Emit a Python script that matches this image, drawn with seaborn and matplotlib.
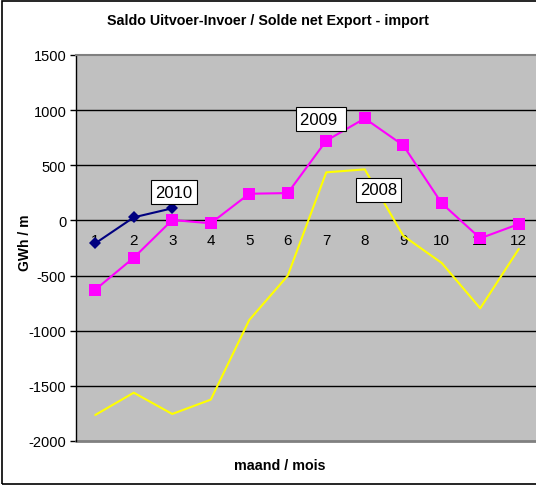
import matplotlib
matplotlib.use("Agg")
import matplotlib.pyplot as plt
import seaborn as sns
import pandas as pd
from matplotlib.patches import Rectangle

months = [1, 2, 3, 4, 5, 6, 7, 8, 9, 10, 11, 12]
month_labels = [str(m) for m in months]
y2008 = [-1764, -1562, -1755, -1625, -903, -501, 436, 463, -139, -386, -797, -259]
y2009 = [-628, -338, 4, -26, 242, 248, 723, 925, 681, 155, -162, -33]
months2010 = [1, 2, 3]
y2010 = [-208, 28, 110]
yticks = [-2000, -1500, -1000, -500, 0, 500, 1000, 1500]

sns.set_theme(style="white")
plt.rcParams['font.family'] = ['Liberation Sans', 'DejaVu Sans']
plt.rcParams['text.color'] = 'black'
plt.rcParams['xtick.color'] = 'black'
plt.rcParams['ytick.color'] = 'black'
plt.rcParams['axes.labelcolor'] = 'black'

W, H = 536, 489
fig = plt.figure(figsize=(W / 100, H / 100), dpi=100)
fig.patch.set_facecolor("white")
fig.patches.append(Rectangle((2 / W, 4 / H), 2.0, (H - 6) / H, transform=fig.transFigure,
                             fill=False, edgecolor="black", linewidth=1.2, zorder=10))

ax = fig.add_axes([76 / W, (H - 442) / H, (538 - 76) / W, (442 - 56) / H])
ax.set_facecolor("#C0C0C0")

df08 = pd.DataFrame({"m": months, "v": y2008})
df09 = pd.DataFrame({"m": months, "v": y2009})
df10 = pd.DataFrame({"m": months2010, "v": y2010})

for g in [500, 1000, -500, -1000, -1500]:
    ax.axhline(g, color="black", linewidth=1.0, zorder=1)

sns.lineplot(data=df08, x="m", y="v", ax=ax, color="#FFFF00", linewidth=1.5, zorder=3)
sns.lineplot(data=df09, x="m", y="v", ax=ax, color="#FF00FF", linewidth=1.5, marker="s",
             markersize=8, markeredgewidth=0, zorder=4)
sns.lineplot(data=df10, x="m", y="v", ax=ax, color="#000080", linewidth=1.5, marker="D",
             markersize=6, markeredgewidth=0, zorder=5)

ax.set_xlim(0.5, 12.5)
ax.set_ylim(-2000, 1500)
ax.set_yticks(yticks)
ax.set_yticklabels([str(t) for t in yticks], fontsize=10.5, color="black")
ax.set_xticks([m + 0.5 for m in months[:-1]])
ax.set_xticklabels([])
ax.set_xticks(months, minor=True)
ax.set_xticklabels(month_labels, minor=True, fontsize=10.5, color="black")
ax.tick_params(axis="x", which="major", direction="out", length=4, width=1, color="black")
ax.tick_params(axis="x", which="minor", length=0, pad=9)
ax.tick_params(axis="y", direction="out", length=4, width=1, color="black", left=True, pad=3)
ax.set_xlabel("")
ax.set_ylabel("")

ax.spines["bottom"].set_position(("data", 0))
ax.spines["bottom"].set_color("black")
ax.spines["bottom"].set_linewidth(1.0)
ax.spines["bottom"].set_zorder(2)
ax.spines["left"].set_color("black")
ax.spines["left"].set_linewidth(1.0)
ax.spines["top"].set_color("#808080")
ax.spines["top"].set_linewidth(1.5)
ax.spines["right"].set_visible(False)
ax.axhline(-2000, color="#808080", linewidth=2.0, clip_on=False, zorder=2)

box = dict(boxstyle="square,pad=0.25", facecolor="white", edgecolor="black", linewidth=0.8)
ax.text(3.04, 257, "2010", ha="center", va="center", fontsize=12, bbox=box, zorder=6)
ax.text(6.86, 919, "2009 ", ha="center", va="center", fontsize=12, bbox=box, zorder=6)
ax.text(8.36, 276, "2008", ha="center", va="center", fontsize=12, bbox=box, zorder=6)

fig.text(0.5, 1 - 21 / H, "Saldo Uitvoer-Invoer / Solde net Export - import", ha="center",
         va="center", fontsize=10.3, fontweight="bold", color="black")
fig.text(280 / W, 1 - 466 / H, "maand / mois", ha="center", va="center", fontsize=10.3,
         fontweight="bold", color="black")
fig.text(25 / W, 1 - 243 / H, "GWh / m", ha="center", va="center", rotation=90, fontsize=10,
         fontweight="bold", color="black")

fig.savefig("out.png", dpi=100)
